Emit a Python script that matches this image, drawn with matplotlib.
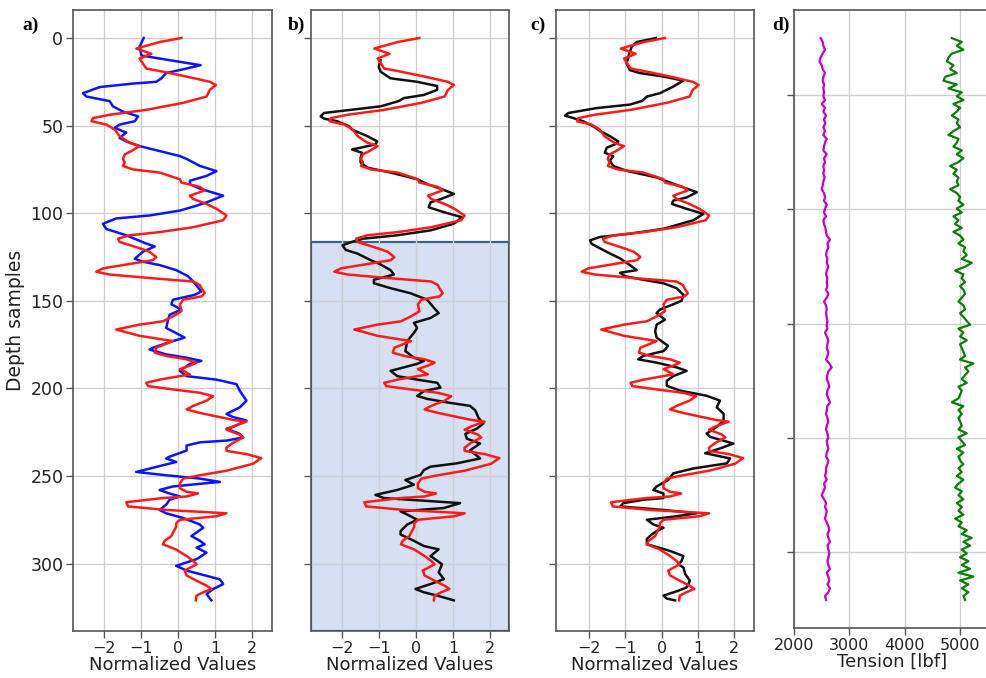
import numpy as np
import matplotlib
matplotlib.use("Agg")
import matplotlib.pyplot as plt

# ---------------- data ----------------
# (depth sample, normalized value) pairs
blue_curve = [
    (0, -0.93), (5, -1.04), (10, -0.99), (13.6, 0.05), (15.5, 0.61), (17.4, 0.23), (20, -0.32), (23, -0.45),
    (25, -0.59), (26, -1.22), (28, -2.12), (31.5, -2.57), (33.4, -2.48), (36, -1.85), (39, -1.76), (42, -1.49),
    (44.7, -1.08), (47.5, -1.17), (49.4, -1.58), (51.3, -1.71), (54, -1.40), (57, -1.58), (59, -1.40),
    (61.7, -1.04), (64.5, -0.50), (67.4, 0.05), (69, 0.23), (73, 0.59), (76, 1.04), (78.7, 0.77), (81.5, 0.32),
    (83.4, 0.32), (86, 0.59), (90, 1.22), (93.8, 0.77), (95.7, 0.50), (98.5, 0.05), (101.3, -0.77),
    (103, -1.67), (106, -2.03), (109, -1.94), (112.6, -1.40), (117, -0.90), (119, -0.63), (122, -0.95),
    (126, -1.17), (127.7, -0.95), (129.6, -0.50), (132.5, -0.05), (136, 0.27), (139, 0.41), (144.7, 0.63),
    (146.6, 0.45), (149.4, -0.14), (152, -0.18), (155, 0.09), (158, -0.23), (160.8, -0.27), (165.5, -0.32),
    (171, 0.18), (173, -0.14), (176.8, -0.68), (177.8, -0.77), (180.6, -0.32), (182.5, 0.23), (184.3, 0.63),
    (186, 0.32), (190, 0.05), (193, 0.23), (195, 1.04), (197.6, 1.58), (201.4, 1.67), (207, 1.85),
    (210.8, 1.67), (214.6, 1.31), (216.4, 1.49), (218.3, 1.85), (222, 1.49), (223, 1.31), (226, 1.67),
    (228, 1.76), (229.8, 1.31), (230.8, 0.59), (232.6, 0.23), (235.5, 0.23), (239, -0.23), (240, -0.32),
    (242, -0.05), (243.9, -0.41), (247.7, -1.13), (249.6, -0.32), (251.5, 0.59), (253.4, 1.13), (254.3, 0.68),
    (256, -0.14), (258, -0.50), (260, -0.23), (261.7, 0.05), (263.6, -0.23), (266.4, -0.32), (269.4, -0.50),
    (271.3, -0.32), (274, 0.14), (277.7, 0.59), (279.6, 0.68), (284.3, 0.36), (287, 0.59), (289, 0.72),
    (290.9, 0.50), (293.8, 0.77), (297.5, 0.50), (301.3, -0.05), (304, 0.23), (306, 0.59), (309, 1.13),
    (311.7, 1.22), (314.5, 0.95), (317.4, 0.77), (321, 0.90),
]

red_curve = [
    (0, 0.09), (2.3, -0.50), (6, -1.13), (7, -0.99), (9, -0.72), (11.7, -1.04), (14.5, -0.95), (17.4, -0.86),
    (19.2, -0.41), (22, 0.23), (25, 0.86), (26.8, 1.02), (29.6, 0.86), (33.4, 0.77), (37, 0.14), (41, -0.86),
    (43.8, -1.85), (45.7, -2.30), (47.5, -2.34), (49.4, -1.94), (52.3, -1.71), (56, -1.58), (59.8, -1.31),
    (61.7, -1.04), (64.5, -1.26), (66.4, -1.44), (69, -1.49), (71, -1.44), (73, -1.49), (75, -1.22),
    (76.8, -0.50), (80.6, 0.05), (82.5, 0.09), (85, 0.59), (87, 0.72), (90, 0.32), (91.9, 0.41), (94.7, 0.77),
    (97.5, 1.04), (101.3, 1.31), (104, 1.22), (108, 0.41), (110.8, -0.50), (112.6, -1.31), (114.5, -1.62),
    (116.4, -1.58), (120, -1.04), (122, -0.77), (125, -0.59), (126.8, -0.68), (128.7, -1.22), (131.5, -2.03),
    (133.4, -2.21), (135, -1.85), (137, -0.77), (139, 0.41), (141, 0.59), (142.8, 0.63), (145.7, 0.72),
    (147.5, 0.63), (149.4, 0.14), (152, 0.05), (156, 0.09), (158.9, -0.14), (161.7, -0.41), (163.6, -1.04),
    (166.4, -1.67), (170, -1.04), (173, -0.14), (176.8, -0.59), (179.6, -0.63), (181.5, -0.32), (183.4, 0.23),
    (185.3, 0.50), (187, 0.32), (189, 0.05), (192, 0.32), (195, -0.50), (196.8, -0.86), (198.7, -0.81),
    (200.6, -0.14), (202.5, 0.59), (204.5, 0.95), (207, 0.77), (210, 0.41), (212, 0.23), (214, 0.59),
    (218, 1.49), (219, 1.85), (221.7, 1.49), (223.6, 1.31), (226.4, 1.67), (228, 1.76), (231, 1.49),
    (233.8, 1.31), (235.7, 1.31), (237.5, 1.85), (239.8, 2.25), (243, 2.03), (247, 1.31), (249.6, 0.59),
    (251.5, 0.14), (254.3, 0.05), (257, 0.05), (259, 0.23), (260, 0.54), (261.7, 0.23), (262.6, -0.41),
    (265, -1.40), (267.4, -1.35), (269.4, -0.32), (271.3, 1.31), (273, 1.04), (275, 0.05), (277, -0.05),
    (279, -0.05), (282.5, -0.14), (284.3, -0.18), (287, -0.36), (289, -0.41), (292, -0.05), (295.7, 0.23),
    (298.5, 0.41), (300.4, 0.50), (304, 0.18), (306.8, 0.23), (309.8, 0.50), (312.6, 0.77), (314.5, 0.90),
    (316.4, 0.68), (318.3, 0.50), (321, 0.48),
]

black_b_curve = [
    (12.6, -0.96), (16.4, -1.01), (19.2, -0.96), (23, -0.69), (25, 0.03), (27.4, 0.57), (29.6, 0.57),
    (32.5, 0.21), (34.3, -0.33), (36, -0.47), (39, -0.96), (41, -1.77), (42.8, -2.49), (44.7, -2.58),
    (46, -2.49), (47.5, -2.13), (50.4, -1.81), (52.3, -1.73), (56, -1.32), (59, -1.05), (60.7, -1.10),
    (62.6, -1.50), (63.6, -1.73), (65.5, -1.46), (68.3, -1.50), (71, -1.50), (74, -1.32), (76.8, -0.69),
    (80.6, 0.03), (83.4, 0.30), (86, 0.66), (89, 1.02), (92, 0.66), (93.8, 0.39), (96.6, 0.34), (99.4, 0.75),
    (102.3, 1.24), (106, 1.02), (109.8, 0.39), (112.6, -0.51), (114.5, -1.41), (116, -1.68), (118.3, -1.99),
    (121, -1.90), (123, -1.59), (126.8, -1.23), (128.7, -1.01), (132.5, -0.69), (135, -0.60), (138, -1.14),
    (140, -1.14), (142.8, -0.69), (145.7, -0.15), (149.4, 0.30), (154, 0.48), (157, 0.61), (159.8, 0.39),
    (162.6, -0.06), (165.5, 0.03), (168.3, -0.06), (173, -0.24), (178.7, -0.29), (182.5, -0.06), (184.3, 0.21),
    (186, 0.03), (190, -0.69), (193, -0.51), (195, 0.03), (196.8, 0.57), (199.6, 0.66), (201.5, 0.21),
    (204.3, 0.03), (206, 0.30), (208, 0.84), (210, 1.46), (212.6, 1.60), (217, 1.69), (220, 1.82), (223, 1.64),
    (226, 1.33), (228.7, 1.37), (231.5, 1.73), (235.3, 1.46), (240, 1.73), (242.8, 1.10), (244.7, 0.39),
    (246.6, 0.21), (249.4, 0.12), (252.3, -0.29), (255, -0.06), (258, -0.51), (260.8, -1.10), (262.6, -0.87),
    (264.5, 0.48), (265.5, 1.19), (268.3, 0.75), (270.2, -0.42), (272, -0.24), (275, 0.03), (277.7, -0.24),
    (281.5, -0.42), (283.4, -0.42), (287, -0.06), (290, 0.21), (291.9, 0.61), (295.7, 0.39), (300.4, 0.70),
    (305, 0.61), (308.9, 0.75), (311.7, 0.39), (314.5, -0.02), (316.4, 0.21), (318.3, 0.57), (321, 1.02),
]

black_c_curve = [
    (0, -0.16), (2.3, -0.69), (5, -0.83), (8, -0.88), (10.8, -0.92), (14.5, -0.97), (18.3, -0.88), (20, -0.60),
    (22, 0.05), (24.3, 0.60), (27.7, 0.32), (31.5, -0.05), (33.4, -0.41), (36, -0.55), (38, -0.88), (40, -1.80),
    (42.8, -2.58), (44.3, -2.67), (45.7, -2.44), (47.5, -2.17), (50.4, -1.89), (53, -1.71), (56, -1.43),
    (59, -1.20), (60.7, -1.29), (62.6, -1.52), (65.5, -1.57), (67.4, -1.34), (70, -1.43), (73, -1.34),
    (75.8, -0.97), (79.6, -0.14), (82.5, 0.23), (85.3, 0.60), (88, 0.97), (91, 0.69), (92.8, 0.32), (94.7, 0.28),
    (97.5, 0.69), (100.4, 1.15), (104, 0.88), (108.9, 0.05), (111.7, -0.88), (113.6, -1.71), (115.5, -1.98),
    (117.4, -1.94), (120, -1.71), (123, -1.43), (125.8, -1.15), (129.6, -0.88), (132.5, -0.69), (134, -1.15),
    (136, -1.01), (138, -0.51), (140, 0.05), (142.8, 0.41), (146.6, 0.60), (150, 0.55), (152, 0.32), (155, -0.05),
    (157, -0.14), (160.8, 0.09), (163.6, -0.14), (167.4, -0.18), (171, -0.14), (175.8, 0.18), (178.7, 0.05),
    (181.5, -0.51), (183.4, -0.65), (185.3, -0.14), (188, 0.41), (190, 0.69), (193, 0.32), (195.7, 0.14),
    (198.5, 0.14), (201.3, 0.51), (204.2, 1.24), (207, 1.61), (210.8, 1.52), (214.5, 1.71), (218.3, 1.71),
    (222, 1.52), (225.8, 1.24), (227.7, 1.34), (231.5, 1.98), (234.3, 1.61), (237, 1.20), (240, 1.89),
    (242.8, 1.80), (245.7, 0.88), (248.5, 0.32), (252.3, 0.18), (256, -0.14), (258, -0.23), (260, 0.05),
    (262.6, 0.05), (263.6, -0.51), (265.5, -1.06), (267.4, -1.15), (269.4, 0.05), (271.3, 0.97), (273, 0.41),
    (275, -0.41), (277.7, -0.23), (279.6, 0.05), (281.5, -0.14), (283.4, -0.28), (286, -0.41), (289, -0.41),
    (290, -0.23), (292.8, 0.23), (295.7, 0.60), (298.5, 0.55), (300.4, 0.46), (302.3, 0.60), (306, 0.65),
    (309.8, 0.78), (313.6, 0.69), (315.5, 0.46), (318.3, 0.05), (320, 0.14), (321, 0.37),
]

# Panel d: tension logs [lbf], equally spaced in depth (ft)
tension_top_ft, tension_bottom_ft = 2050, 2542
tension_magenta = [
    2482, 2518, 2530, 2560, 2518, 2482, 2458, 2500, 2518, 2560, 2530, 2518, 2542, 2530, 2542, 2530, 2560,
    2500, 2560, 2530, 2579, 2542, 2567, 2530, 2560, 2530, 2591, 2560, 2542, 2530, 2591, 2542, 2560, 2530,
    2542, 2530, 2554,
    2530, 2518, 2500, 2542, 2560, 2542, 2591, 2560, 2542, 2579, 2530, 2542, 2567, 2579, 2591, 2651, 2603,
    2621, 2591, 2579, 2603, 2591, 2621, 2591, 2579, 2603, 2591, 2603, 2579, 2621, 2591, 2542, 2579, 2591,
    2579, 2591, 2603,
    2591, 2603, 2560, 2591, 2621, 2603, 2591, 2621, 2603, 2579, 2639, 2681, 2621, 2603, 2591, 2621, 2639,
    2603, 2591, 2621, 2651, 2603, 2591, 2579, 2603, 2621, 2591, 2579, 2603, 2621, 2591, 2603, 2621, 2591,
    2579, 2621, 2603, 2579,
    2579, 2560, 2591, 2542, 2560, 2530, 2500, 2542, 2579, 2560, 2591, 2579, 2560, 2591, 2621, 2639, 2603,
    2621, 2651, 2603, 2621, 2639, 2621, 2603, 2621, 2651, 2591, 2621, 2639, 2603, 2651, 2621, 2560, 2579,
]
tension_green = [
    4850, 5030, 4940, 5060, 4850, 4790, 4760, 4880, 4820, 4940, 4730, 4700, 4940, 4790, 5030, 4940, 5060,
    4880, 5000, 4940, 4850, 4970, 4940, 5000, 4880, 4790, 4970, 4940, 4880, 5030, 4940, 5060, 4970, 4820,
    4940, 4880, 4970,
    4940, 4970, 4820, 4940, 5000, 4970, 5060, 4940, 5030, 4880, 4970, 4910, 5030, 4880, 5000, 5060, 4970,
    5090, 5060, 5120, 5030, 5210, 5090, 4910, 5060, 5030, 5090, 5000, 5060, 5090, 5030, 4970, 5060, 5090,
    5000, 5060, 5120,
    5180, 4970, 5060, 5000, 5120, 5000, 5030, 5060, 5090, 5000, 5240, 5090, 5150, 5090, 5030, 5120, 4970,
    5030, 5000, 4970, 4850, 5060, 4970, 5030, 4970, 5000, 5030, 4970, 5120, 4970, 5030, 5090, 4940, 5060,
    4970, 5000, 5060, 4970,
    5030, 4940, 5060, 4970, 4910, 5030, 4970, 5060, 4940, 5030, 4970, 5060, 4910, 5030, 4970, 5120, 5030,
    5210, 5060, 5180, 5030, 5120, 5000, 5150, 5030, 5180, 4970, 5240, 5000, 5150, 5030, 5150, 5060, 5090,
]

norm_ticks = [-2, -1, 0, 1, 2]
depth_ticks = [0, 50, 100, 150, 200, 250, 300]
tension_ticks = [2000, 3000, 4000, 5000]
tension_depth_ticks = [2100, 2200, 2300, 2400, 2500]
shade_top = 116.5
panel_labels = ["a)", "b)", "c)", "d)"]

# ---------------- figure ----------------
W, H = 986, 678
fig = plt.figure(figsize=(W / 100, H / 100), dpi=100)
plt.rcParams["font.family"] = ["DejaVu Sans"]

SPINE = "#555555"
GRID = "#cfcfcf"
LABEL_KW = dict(fontsize=13, color="#222222", labelpad=0)
BOTTOM = 631


def ax_at(l, r, t, b):
    return fig.add_axes([l / W, 1 - b / H, (r - l) / W, (b - t) / H])


def style(ax):
    for s in ax.spines.values():
        s.set_color(SPINE)
        s.set_linewidth(1.2)
    ax.grid(True, color=GRID, linewidth=1.0)
    ax.tick_params(direction="out", length=5, width=1.0, color=SPINE,
                   labelsize=11.5, labelcolor="#222222", pad=2)


def xy(curve):
    arr = np.array(curve, dtype=float)
    return arr[:, 1], arr[:, 0]


ylim = (338.5, -16)

# panel a
axa = ax_at(73, 272, 10, BOTTOM)
style(axa)
x, y = xy(blue_curve)
axa.plot(x, y, color="#0a14ff", lw=1.8)
x, y = xy(red_curve)
axa.plot(x, y, color="#ff1a1a", lw=1.8)
axa.set_xlim(-2.84, 2.54)
axa.set_ylim(*ylim)
axa.set_xticks(norm_ticks)
axa.set_yticks(depth_ticks)
axa.tick_params(axis="y", labelsize=12.5)
axa.set_xlabel("Normalized Values", **LABEL_KW)
axa.set_ylabel("Depth samples", fontsize=13.5, color="#222222", labelpad=4)

# panel b
axb = ax_at(311, 509, 10, BOTTOM)
style(axb)
axb.axhspan(shade_top, ylim[0], facecolor=(0.28, 0.45, 0.78, 0.22),
            edgecolor="#3d5d9e", linewidth=1.6, zorder=1)
x, y = xy(black_b_curve)
axb.plot(x, y, color="#111111", lw=1.8, zorder=3)
x, y = xy(red_curve)
axb.plot(x, y, color="#ff1a1a", lw=1.8, zorder=3)
axb.set_xlim(-2.84, 2.51)
axb.set_ylim(*ylim)
axb.set_xticks(norm_ticks)
axb.set_yticks(depth_ticks)
axb.tick_params(labelleft=False)
axb.set_xlabel("Normalized Values", **LABEL_KW)

# panel c
axc = ax_at(556, 754, 10, BOTTOM)
style(axc)
x, y = xy(black_c_curve)
axc.plot(x, y, color="#111111", lw=1.8)
x, y = xy(red_curve)
axc.plot(x, y, color="#ff1a1a", lw=1.8)
axc.set_xlim(-2.92, 2.55)
axc.set_ylim(*ylim)
axc.set_xticks(norm_ticks)
axc.set_yticks(depth_ticks)
axc.tick_params(labelleft=False)
axc.set_xlabel("Normalized Values", **LABEL_KW)

# panel d
axd = ax_at(794, 990, 10, BOTTOM - 3)
style(axd)
dep = np.linspace(tension_top_ft, tension_bottom_ft, len(tension_magenta))
axd.plot(tension_magenta, dep, color="#c000c8", lw=1.6)
dep_g = np.linspace(tension_top_ft, tension_bottom_ft, len(tension_green))
axd.plot(tension_green, dep_g, color="#0a7d0a", lw=1.6)
axd.set_xlim(2000, 5540)
axd.invert_yaxis()
axd.set_xticks(tension_ticks)
axd.set_yticks(tension_depth_ticks)
axd.tick_params(labelleft=False)
axd.set_xlabel("Tension [lbf]", **LABEL_KW)

# panel letters
for lab, px in zip(panel_labels, [31, 296, 538, 781]):
    fig.text(px / W, 1 - 25 / H, lab, family="Liberation Serif", weight="bold",
             fontsize=14, ha="center", va="center")

fig.savefig("out.png", dpi=100)
